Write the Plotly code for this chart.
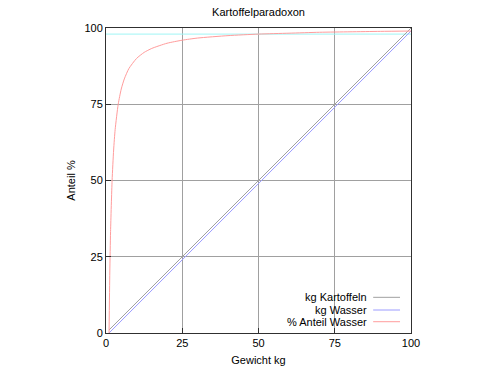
import plotly.graph_objects as go

# Data
gewicht_kartoffeln = [1, 100]
kg_kartoffeln = [1, 100]
gewicht_wasser = [1, 100]
kg_wasser = [0, 99]
gewicht_anteil = [1, 1.25, 1.5, 2, 2.5, 3, 4, 5, 6, 7.5, 10, 12.5, 15, 20, 25, 30, 40, 50, 60, 70, 80, 90, 100]
anteil_wasser = [0, 20, 33.3, 50, 60, 66.7, 75, 80, 83.3, 86.7, 90, 92, 93.3, 95, 96, 96.7, 97.5, 98, 98.3, 98.6, 98.75, 98.9, 99]
ref_x = [0, 100]
ref_y = [98, 98]

tick_vals = [0, 25, 50, 75, 100]
tick_text = ["0", "25", "50", "75", "100"]

series_names = ["kg Kartoffeln", "kg Wasser", "% Anteil Wasser"]
series_colors = ["#a0a0a0", "#9c9cff", "#ff9c9c"]

FONT = "Liberation Sans, Arial, sans-serif"

fig = go.Figure()
fig.add_trace(go.Scatter(x=ref_x, y=ref_y, mode="lines",
                         line=dict(color="#9ff5f5", width=1), showlegend=False))
fig.add_trace(go.Scatter(x=gewicht_kartoffeln, y=kg_kartoffeln, mode="lines",
                         line=dict(color=series_colors[0], width=1), name=series_names[0], showlegend=False))
fig.add_trace(go.Scatter(x=gewicht_wasser, y=kg_wasser, mode="lines",
                         line=dict(color=series_colors[1], width=1), name=series_names[1], showlegend=False))
fig.add_trace(go.Scatter(x=gewicht_anteil, y=anteil_wasser, mode="lines",
                         line=dict(color=series_colors[2], width=1, shape="spline", smoothing=0.6),
                         name=series_names[2], showlegend=False))

# gnuplot-style legend: text right-aligned, sample line to its right
leg_y = [0.117, 0.0754, 0.037]
annotations = []
shapes = []
for name, col, yy in zip(series_names, series_colors, leg_y):
    annotations.append(dict(xref="paper", yref="paper", x=0.862, y=yy, text=name,
                            showarrow=False, xanchor="right", yanchor="middle",
                            font=dict(family=FONT, size=11, color="#000000")))
    shapes.append(dict(type="line", xref="paper", yref="paper", x0=0.876, x1=0.964,
                       y0=yy, y1=yy, line=dict(color=col, width=1)))

axis_common = dict(
    range=[0, 100], tickvals=tick_vals, ticktext=tick_text,
    showgrid=True, gridcolor="#a0a0a0", gridwidth=1,
    zeroline=False, showline=True, linecolor="#303030", linewidth=1, mirror=True,
    ticks="inside", ticklen=5, tickcolor="#303030", automargin=False,
    tickfont=dict(family=FONT, size=11, color="#000000"),
)

fig.update_layout(
    width=500, height=375,
    margin=dict(l=106, r=89, t=28, b=42),
    paper_bgcolor="white", plot_bgcolor="white",
    title=dict(text="Kartoffelparadoxon", x=(106 + 152.5) / 500, xanchor="center",
               y=1 - 12 / 375, yanchor="middle",
               font=dict(family=FONT, size=11, color="#000000")),
    xaxis=dict(axis_common, title=dict(text="Gewicht kg", standoff=8,
                                       font=dict(family=FONT, size=11, color="#000000"))),
    yaxis=dict(axis_common, title=dict(text="Anteil %", standoff=6,
                                       font=dict(family=FONT, size=11, color="#000000"))),
    annotations=annotations, shapes=shapes,
    showlegend=False,
)

fig.write_html("out.html", post_script="document.body.style.margin='0';",
               config={"displayModeBar": False})
